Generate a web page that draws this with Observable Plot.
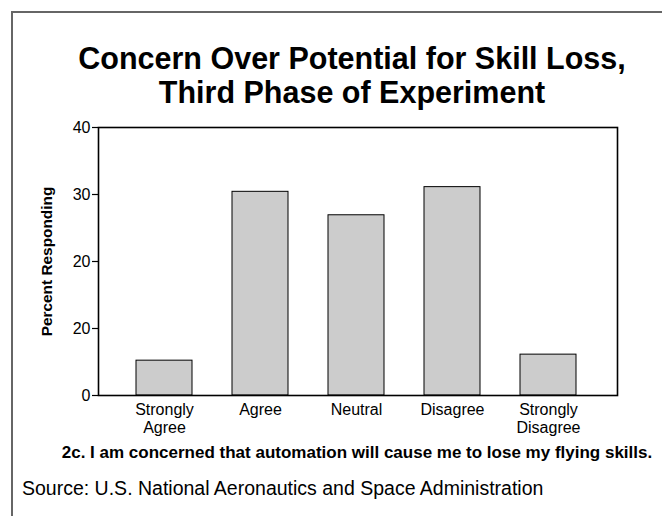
<!DOCTYPE html>
<html><head><meta charset="utf-8">
<script src="https://cdn.jsdelivr.net/npm/d3@7"></script>
<script src="https://cdn.jsdelivr.net/npm/@observablehq/plot@0.6"></script>
<style>
body{margin:0;background:#fff;font-family:"Liberation Sans",Arial,sans-serif;}
#wrap{position:relative;width:662px;height:516px;overflow:hidden;}
#box{position:absolute;left:11px;top:11px;width:700px;height:600px;border-left:2px solid #666;border-top:2px solid #666;}
#title{position:absolute;left:0;width:704px;top:41px;text-align:center;font-weight:bold;font-size:30.5px;line-height:34px;color:#000;white-space:nowrap;}
#plot{position:absolute;left:0;top:110px;}
#caption{position:absolute;left:0;width:714px;top:443px;text-align:center;font-weight:bold;font-size:17px;white-space:nowrap;}
#source{position:absolute;left:22px;top:477px;font-size:19.5px;white-space:nowrap;}
</style></head>
<body><div id="wrap"><div id="box"></div>
<div id="title">Concern Over Potential for Skill Loss,<br>Third Phase of Experiment</div>
<div id="plot"></div>
<div id="caption">2c. I am concerned that automation will cause me to lose my flying skills.</div>
<div id="source">Source: U.S. National Aeronautics and Space Administration</div>
</div>
<script>
const categories = ["Strongly Agree", "Agree", "Neutral", "Disagree", "Strongly Disagree"];
const categoryLabels = ["Strongly\nAgree", "Agree", "Neutral", "Disagree", "Strongly\nDisagree"];
const percents = [5.2, 30.4, 26.9, 31.1, 6.1];
const yTicks = [0, 10, 20, 30, 40];
const yTickLabels = ["0", "20", "20", "30", "40"];

const data = categories.map((c, i) => ({category: c, value: percents[i]}));

const chart = Plot.plot({
  width: 662,
  height: 340,
  marginTop: 17,
  marginBottom: 55,
  marginLeft: 98,
  marginRight: 45,
  style: {fontFamily: '"Liberation Sans", Arial, sans-serif', fontSize: "16px", color: "#000", background: "transparent"},
  x: {domain: categories, paddingInner: 0.42, paddingOuter: 0.21, insetLeft: 15.6, insetRight: 19.6, label: null},
  y: {domain: [0, 40], ticks: yTicks, label: null},
  marks: [
    Plot.barY(data, {x: "category", y: "value", fill: "#cccccc", stroke: "#000", strokeWidth: 1}),
    Plot.frame({stroke: "#000", strokeWidth: 1.6}),
    Plot.axisY({ticks: yTicks, tickSize: 6, tickPadding: 2, tickFormat: (d) => yTickLabels[yTicks.indexOf(d)], label: null, fontSize: 16, strokeWidth: 1.2}),
    Plot.axisX({tickSize: 0, tickPadding: 7, tickFormat: (d) => categoryLabels[categories.indexOf(d)], label: null, fontSize: 16, lineHeight: 1.12}),
    Plot.text(["Percent Responding"], {frameAnchor: "left", dx: -51, rotate: -90, textAnchor: "middle", lineAnchor: "middle", fontWeight: "bold", fontSize: 15.4})
  ]
});
document.getElementById("plot").appendChild(chart);
</script>
</body></html>
